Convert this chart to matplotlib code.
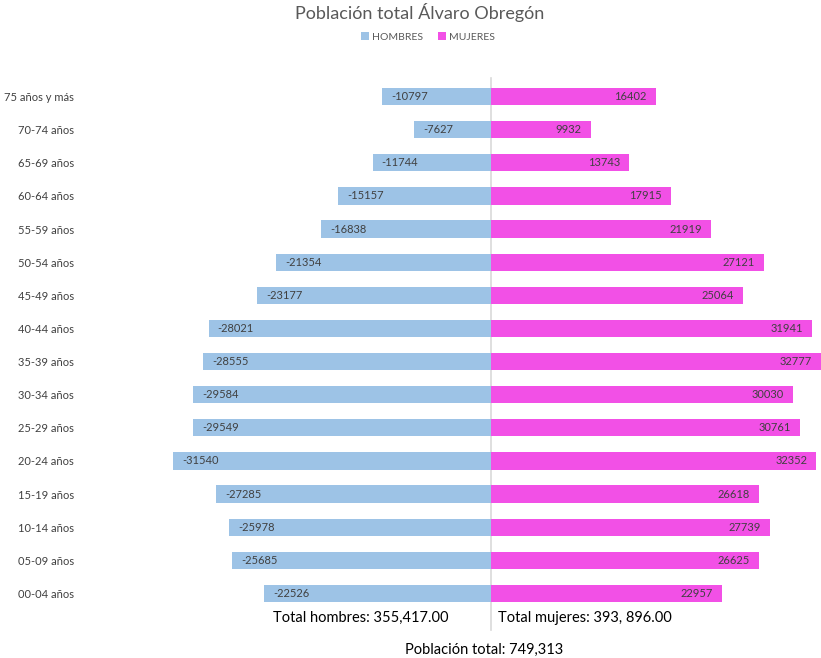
import matplotlib.pyplot as plt
import numpy as np

plt.rcParams['font.family'] = ['Lato', 'DejaVu Sans']

grupos = ["00-04 años", "05-09 años", "10-14 años", "15-19 años", "20-24 años",
          "25-29 años", "30-34 años", "35-39 años", "40-44 años", "45-49 años",
          "50-54 años", "55-59 años", "60-64 años", "65-69 años", "70-74 años",
          "75 años y más"]
hombres = [-22526, -25685, -25978, -27285, -31540, -29549, -29584, -28555,
           -28021, -23177, -21354, -16838, -15157, -11744, -7627, -10797]
mujeres = [22957, 26625, 27739, 26618, 32352, 30761, 30030, 32777,
           31941, 25064, 27121, 21919, 17915, 13743, 9932, 16402]

azul = "#9DC3E6"
rosa = "#F250E6"
gris = "#404040"

fig = plt.figure(figsize=(8.21, 6.58), dpi=100)
ax = fig.add_axes([85 / 821, 48 / 658, 736 / 821, 530 / 658])

y = np.arange(len(grupos))
bh = ax.barh(y, hombres, height=0.52, color=azul, label="HOMBRES")
bm = ax.barh(y, mujeres, height=0.52, color=rosa, label="MUJERES")

for yi, v in zip(y, hombres):
    ax.text(v + 900, yi, str(v), va="center", ha="left", fontsize=8, color=gris)
for yi, v in zip(y, mujeres):
    ax.text(v - 900, yi, str(v), va="center", ha="right", fontsize=8, color=gris)

ax.set_xlim(-40300, 32800)
ax.set_ylim(-0.5, 15.5)
ax.set_yticks(y)
ax.set_yticklabels(grupos, fontsize=8, color=gris)
ax.tick_params(axis="y", length=0, pad=8)
ax.set_xticks([])
for s in ax.spines.values():
    s.set_visible(False)

# linea central que baja hasta los totales
ax.plot([0, 0], [-1.1, 15.55], color="#D9D9D9", lw=1.2, clip_on=False, zorder=0)

fig.text(420 / 821, 1 - 12 / 658, "Población total Álvaro Obregón", ha="center",
         va="center", fontsize=13, color="#595959")
ax.legend(loc="center", bbox_to_anchor=(428 / 821, 1 - 37 / 658), bbox_transform=fig.transFigure,
          ncol=2, frameon=False, fontsize=7.5, labelcolor="#595959",
          handlelength=0.7, handleheight=0.7, handletextpad=0.3, columnspacing=1.5)

fig.text(361 / 821, 1 - 618 / 658, "Total hombres: 355,417.00", ha="center",
         va="center", fontsize=10.5, color="#000000")
fig.text(585 / 821, 1 - 618 / 658, "Total mujeres: 393, 896.00", ha="center",
         va="center", fontsize=10.5, color="#000000")
fig.text(484 / 821, 1 - 650 / 658, "Población total: 749,313", ha="center",
         va="center", fontsize=10.5, color="#000000")

fig.savefig("out.png", dpi=100, facecolor="white")
